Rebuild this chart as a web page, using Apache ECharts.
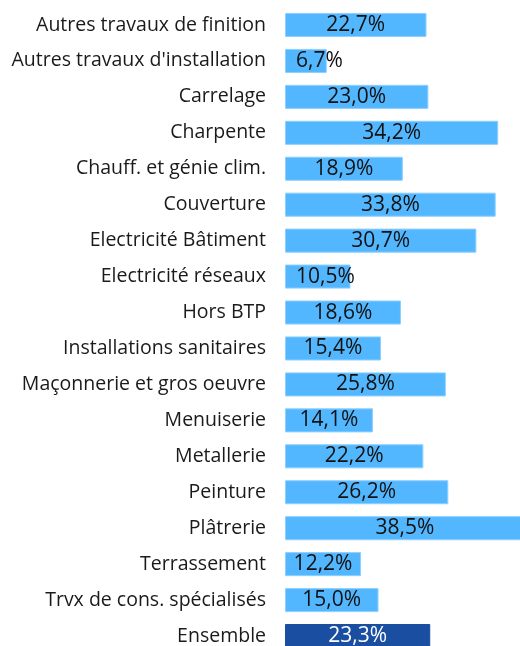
<!DOCTYPE html>
<html>
<head>
<meta charset="utf-8">
<script src="https://cdn.jsdelivr.net/npm/echarts@6/dist/echarts.min.js"></script>
<style>
  html, body { margin: 0; padding: 0; background: #fff; overflow: hidden; }
  /* the picture crops the last bar and the longest one, so the chart is a bit larger than the window */
  #chart { width: 525px; height: 654px; }
</style>
</head>
<body>
<div id="chart"></div>
<script>
// categories, top to bottom
const categories = [
    'Autres travaux de finition',
    "Autres travaux d'installation",
    'Carrelage',
    'Charpente',
    'Chauff. et génie clim.',
    'Couverture',
    'Electricité Bâtiment',
    'Electricité réseaux',
    'Hors BTP',
    'Installations sanitaires',
    'Maçonnerie et gros oeuvre',
    'Menuiserie',
    'Metallerie',
    'Peinture',
    'Plâtrerie',
    'Terrassement',
    'Trvx de cons. spécialisés',
    'Ensemble'
];
const values = [22.7, 6.7, 23.0, 34.2, 18.9, 33.8, 30.7, 10.5, 18.6, 15.4, 25.8, 14.1, 22.2, 26.2, 38.5, 12.2, 15.0, 23.3];

const FONT = '"Open Sans", sans-serif';

function fmt(v) {
    return v.toFixed(1).replace('.', ',') + '%';
}

const chart = echarts.init(document.getElementById('chart'));

const seriesData = values.map((v, i) => {
    const isTotal = categories[i] === 'Ensemble';
    const item = {
        value: v,
        itemStyle: isTotal
            ? { color: '#1a4ea0', borderColor: '#1a4ea0', borderWidth: 1 }
            : { color: '#52b7ff', borderColor: '#8fd0ff', borderWidth: 1 }
    };
    if (isTotal) item.label = { color: '#ffffff' };
    // labels wider than their bar start near the left edge
    if (v < 11) item.label = { position: 'insideLeft', distance: 11 };
    return item;
});

chart.setOption({
    animation: false,
    grid: { left: 285, right: 0, top: 7, bottom: 0, containLabel: false },
    xAxis: {
        type: 'value',
        min: 0,
        max: 38.5,
        show: false
    },
    yAxis: {
        type: 'category',
        data: categories,
        inverse: true,
        axisLine: { show: false },
        axisTick: { show: false },
        axisLabel: { color: '#1a1a1a', fontSize: 19.5, fontFamily: FONT, margin: 19 }
    },
    series: [{
        type: 'bar',
        data: seriesData,
        barCategoryGap: '33%',
        label: {
            show: true,
            position: 'inside',
            color: '#111111',
            fontSize: 21,
            fontFamily: FONT,
            formatter: p => fmt(p.value)
        }
    }]
});
</script>
</body>
</html>
